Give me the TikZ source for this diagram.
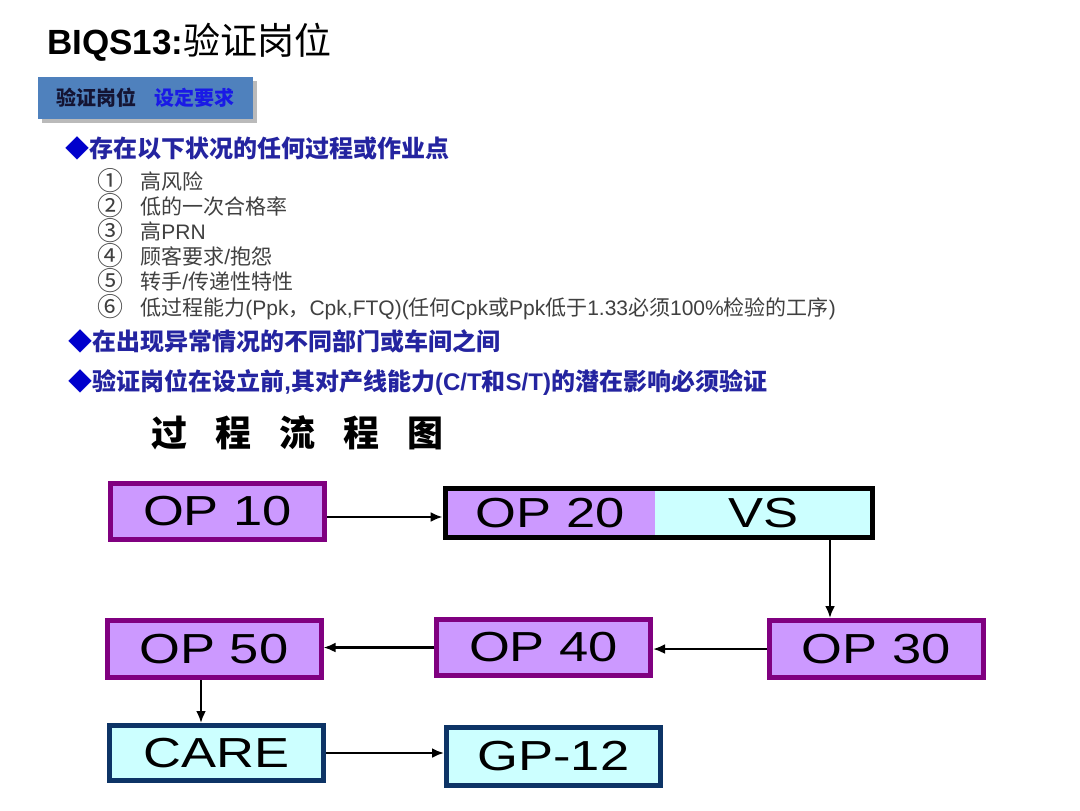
\documentclass[tikz,border=0pt]{standalone}
\usepackage{fontspec}
\usepackage{graphicx}
\setmainfont{Liberation Sans}
\newfontfamily\cjk{Noto Sans CJK SC}
\usetikzlibrary{arrows.meta,fit,shadows}
\definecolor{purp}{HTML}{CC99FF}
\definecolor{purpd}{HTML}{800080}
\definecolor{cyanf}{HTML}{CCFFFF}
\definecolor{navyb}{HTML}{0D3466}
\definecolor{hdrblue}{HTML}{4F81BD}
\definecolor{bullblue}{HTML}{2424A0}
\definecolor{bulletc}{HTML}{0000CC}
\definecolor{txtgray}{HTML}{404040}
\definecolor{bright}{HTML}{1A1AE6}
\definecolor{hdrtxt}{HTML}{141433}
\newcommand{\boxtxt}[1]{\scalebox{1.25}[1]{#1}}
\begin{document}
\begin{tikzpicture}[x=0.5pt,y=-0.5pt,
  txt/.style={inner sep=0pt, anchor=base west},
  bul/.style={txt, text=bullblue, font=\cjk\bfseries\fontsize{12}{14}\selectfont},
  itm/.style={txt, text=txtgray, font=\fontsize{10.5}{12}\selectfont},
  num/.style={txt, text=txtgray, font=\cjk\fontsize{13}{14}\selectfont},
  opbox/.style={draw=purpd, fill=purp, line width=2.5pt, minimum width=107pt, minimum height=28.5pt, inner sep=0pt, font=\fontsize{21}{24}\selectfont},
  cbox/.style={draw=navyb, fill=cyanf, line width=2.5pt, minimum width=107pt, minimum height=28.5pt, inner sep=0pt, font=\fontsize{21}{24}\selectfont},
  arr/.style={line width=1.3pt, -{Latex[length=6pt,width=5pt]}}]
\fill[white] (0,0) rectangle (1080,810);
\useasboundingbox (0,0) rectangle (1080,810);

% title
\node[txt] (title) at (47,54) {\bfseries\fontsize{17.5}{20}\selectfont BIQS13:{\cjk\mdseries\fontsize{18.5}{20}\selectfont 验证岗位}};

% header box
\node[fill=hdrblue, minimum width=107.5pt, minimum height=21pt, inner sep=0pt,
  drop shadow={shadow xshift=2pt, shadow yshift=-2pt, fill=black!45, opacity=0.6},
  font=\cjk\bfseries\fontsize{10}{12}\selectfont] (hdr) at (145.5,98)
  {\textcolor{hdrtxt}{验证岗位}\hspace{9pt}\textcolor{bright}{设定要求}};

% bullets and items
\node[bul] (b1) at (65,157) {\textcolor{bulletc}{◆}存在以下状况的任何过程或作业点};
\node[num] (n1) at (97,190) {①};
\node[num] (n2) at (97,215) {②};
\node[num] (n3) at (97,240) {③};
\node[num] (n4) at (97,265) {④};
\node[num] (n5) at (97,290) {⑤};
\node[num] (n6) at (97,316) {⑥};
\node[itm] (t1) at (140,189) {\cjk 高风险};
\node[itm] (t2) at (140,214) {\cjk 低的一次合格率};
\node[itm] (t3) at (140,239) {{\cjk 高}PRN};
\node[itm] (t4) at (140,264) {{\cjk 顾客要求}/{\cjk 抱怨}};
\node[itm] (t5) at (140,289) {{\cjk 转手}/{\cjk 传递性特性}};
\node[itm] (t6) at (140,315) {{\cjk 低过程能力}(Ppk{\cjk ，}Cpk,FTQ)({\cjk 任何}Cpk{\cjk 或}Ppk{\cjk 低于}1.33{\cjk 必须}100\%{\cjk 检验的工序})};
\node[bul] (b2) at (68,350) {\textcolor{bulletc}{◆}在出现异常情况的不同部门或车间之间};
\node[bul] (b3) at (68,390) {\textcolor{bulletc}{◆}验证岗位在设立前{\rmfamily\bfseries ,}其对产线能力{\rmfamily\bfseries (C/T}和{\rmfamily\bfseries S/T)}的潜在影响必须验证};

% flow chart title
\node[inner sep=0pt, font=\cjk\bfseries\fontsize{18}{20}\selectfont] (ftitle) at (297.5,433)
  {过\hspace{14pt}程\hspace{14pt}流\hspace{14pt}程\hspace{14pt}图};

% flow chart
\node[opbox, minimum height=28pt] (op10) at (217.5,511) {\boxtxt{OP 10}};
\node[fill=purp, minimum width=104.75pt, minimum height=24.5pt, inner sep=0pt, font=\fontsize{21}{24}\selectfont] (op20) at (550.25,513) {\boxtxt{OP 20}};
\node[fill=cyanf, minimum width=108.75pt, minimum height=24.5pt, inner sep=0pt, font=\fontsize{21}{24}\selectfont] (vs) at (763.75,513) {\boxtxt{VS}};
\node[fit=(op20)(vs), draw=black, line width=2.5pt, inner sep=0pt] (grp) {};
\node[opbox] (op30) at (876,649) {\boxtxt{OP 30}};
\node[opbox, minimum height=28pt] (op40) at (543.5,647.5) {\boxtxt{OP 40}};
\node[opbox] (op50) at (214,649) {\boxtxt{OP 50}};
\node[cbox, minimum height=27.5pt] (care) at (216.5,753) {\boxtxt{CARE}};
\node[cbox, minimum height=29pt] (gp) at (553.5,756.5) {\boxtxt{GP-12}};

\coordinate (dvs) at (830,0);
\coordinate (d50) at (201,0);
\coordinate (h10) at (0,517);
\draw[arr] (op10.east |- h10) -- (grp.west |- h10);
\draw[arr] (grp.south -| dvs) -- (op30.north -| dvs);
\draw[arr] (op30.west) -- (op30.west -| op40.east);
\draw[arr] (op40.west) -- (op40.west -| op50.east);
\draw[arr] (op50.south -| d50) -- (care.north -| d50);
\draw[arr] (care.east) -- (care.east -| gp.west);
\end{tikzpicture}
\end{document}
